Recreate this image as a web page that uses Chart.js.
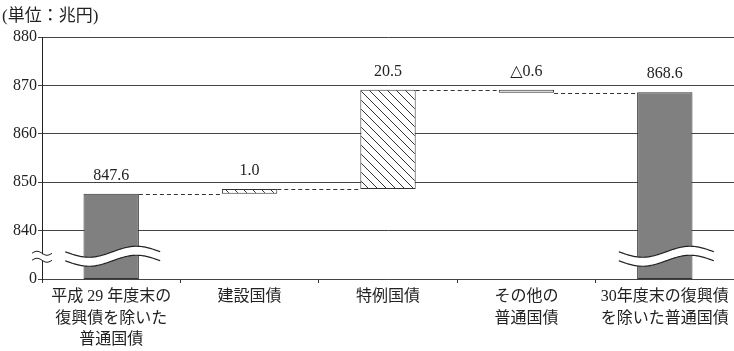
<!DOCTYPE html>
<html>
<head>
<meta charset="utf-8">
<script src="https://cdn.jsdelivr.net/npm/chart.js@4/dist/chart.umd.min.js"></script>
<style>
  html, body { margin: 0; padding: 0; background: #fff; }
  #wrap { width: 734px; height: 351px; position: relative; }
</style>
</head>
<body>
<div id="wrap"><canvas id="c"></canvas></div>
<script>
// ---- data ----
const categories = [
  ["平成 29 年度末の", "復興債を除いた", "普通国債"],
  "建設国債",
  "特例国債",
  ["その他の", "普通国債"],
  ["30年度末の復興債", "を除いた普通国債"]
];
const startTotal = 847.6;            // 兆円
const changes = [1.0, 20.5, -0.6];   // 建設国債, 特例国債, その他の普通国債
const endTotal = 868.6;              // 兆円
const yTickValues = [830, 840, 850, 860, 870, 880];
const yTickLabels = ["0", "840", "850", "860", "870", "880"];
const axisFloor = 830;   // the broken axis shows 0 at this level
const breakLevel = 834.7;

// ---- build floating bar ranges from the data ----
const ranges = [[axisFloor, startTotal]];
const levels = [startTotal];
let level = startTotal;
changes.forEach(c => {
  const next = +(level + c).toFixed(1);
  ranges.push([Math.min(level, next), Math.max(level, next)]);
  level = next;
  levels.push(level);
});
ranges.push([axisFloor, endTotal]);

const fmt = v => (v < 0 ? "△" + Math.abs(v).toFixed(1) : v.toFixed(1));
const valueLabels = [fmt(startTotal), ...changes.map(fmt), fmt(endTotal)];

// ---- hatch pattern ----
function hatch() {
  const s = 9;
  const cv = document.createElement("canvas");
  cv.width = s; cv.height = s;
  const g = cv.getContext("2d");
  g.fillStyle = "#fff";
  g.fillRect(0, 0, s, s);
  g.strokeStyle = "#333";
  g.lineWidth = 1;
  g.beginPath();
  g.moveTo(0, 0); g.lineTo(s, s);
  g.moveTo(-1, s - 1); g.lineTo(1, s + 1);
  g.moveTo(s - 1, -1); g.lineTo(s + 1, 1);
  g.stroke();
  return g.createPattern(cv, "repeat");
}
const ctx0 = document.getElementById("c").getContext("2d");
const hatchFill = hatch();

const SERIF = "'Liberation Serif', 'DejaVu Serif', 'Noto Sans CJK JP', serif";
Chart.defaults.font.family = SERIF;
Chart.defaults.color = "#222";

// ---- decorations: unit caption, value labels, connectors, axis breaks ----
const decor = {
  id: "decor",
  afterDatasetsDraw(chart) {
    const { ctx, scales: { y } } = chart;
    const bars = chart.getDatasetMeta(0).data;
    ctx.save();

    // dashed connectors
    ctx.strokeStyle = "#333";
    ctx.lineWidth = 1;
    ctx.setLineDash([4, 3]);
    for (let i = 0; i < bars.length - 1; i++) {
      const yy = Math.round(y.getPixelForValue(levels[i])) + 0.5;
      ctx.beginPath();
      ctx.moveTo(bars[i].x + bars[i].width / 2, yy);
      ctx.lineTo(bars[i + 1].x - bars[i + 1].width / 2, yy);
      ctx.stroke();
    }
    ctx.setLineDash([]);

    // wave breaks across the full-height bars
    const yc = y.getPixelForValue(breakLevel);
    [0, bars.length - 1].forEach(i => {
      const x0 = bars[i].x - 46, x1 = bars[i].x + 49, per = 95, amp = 5.5, gap = 4.5;
      const curve = (off, reverse) => {
        const pts = [];
        for (let x = x0; x <= x1; x += 1) {
          pts.push([x, yc + off + amp * Math.sin(2 * Math.PI * (x - x0) / per)]);
        }
        return reverse ? pts.reverse() : pts;
      };
      const up = curve(-gap, false), lo = curve(gap, true);
      ctx.fillStyle = "#fff";
      ctx.beginPath();
      up.forEach((p, k) => (k ? ctx.lineTo(p[0], p[1]) : ctx.moveTo(p[0], p[1])));
      lo.forEach(p => ctx.lineTo(p[0], p[1]));
      ctx.closePath();
      ctx.fill();
      ctx.strokeStyle = "#222";
      ctx.lineWidth = 1.2;
      [up, lo].forEach(pts => {
        ctx.beginPath();
        pts.forEach((p, k) => (k ? ctx.lineTo(p[0], p[1]) : ctx.moveTo(p[0], p[1])));
        ctx.stroke();
      });
    });

    // small break mark on the value axis
    const ax = chart.chartArea.left;
    ctx.fillStyle = "#fff";
    ctx.fillRect(ax - 2, yc - 2, 4, 6);
    ctx.strokeStyle = "#222";
    ctx.lineWidth = 1;
    [-3, 4].forEach(off => {
      ctx.beginPath();
      for (let x = ax - 10; x <= ax + 10; x++) {
        const yy = yc + off - 2 * Math.sin(2 * Math.PI * (x - ax + 10) / 20);
        x === ax - 10 ? ctx.moveTo(x, yy) : ctx.lineTo(x, yy);
      }
      ctx.stroke();
    });

    // value labels
    ctx.fillStyle = "#222";
    ctx.font = "16px " + SERIF;
    ctx.textAlign = "center";
    ctx.textBaseline = "bottom";
    bars.forEach((b, i) => {
      const top = y.getPixelForValue(ranges[i][1]);
      ctx.fillText(valueLabels[i], b.x, top - 10);
    });

    // unit caption
    ctx.textAlign = "left";
    ctx.textBaseline = "middle";
    ctx.font = "17px " + SERIF;
    ctx.fillText("(単位：兆円)", 2, 17);
    ctx.restore();
  }
};

new Chart(ctx0, {
  type: "bar",
  data: {
    labels: categories,
    datasets: [{
      data: ranges,
      backgroundColor: ["#808080", hatchFill, hatchFill, "#dcdcdc", "#808080"],
      borderColor: "#333",
      borderWidth: 1,
      borderSkipped: false,
      categoryPercentage: 1,
      barPercentage: 0.4
    }]
  },
  options: {
    responsive: true,
    maintainAspectRatio: false,
    animation: false,
    layout: { padding: { top: 37, right: 0, bottom: 0, left: 0 } },
    plugins: { legend: { display: false }, tooltip: { enabled: false } },
    scales: {
      x: {
        grid: { offset: true, drawOnChartArea: false, drawTicks: true, tickLength: 4, color: "#333" },
        border: { display: true, color: "#444" },
        ticks: { font: { size: 16, lineHeight: 1.35 }, padding: 3, maxRotation: 0, autoSkip: false },
        afterFit: s => { s.height = 72; }
      },
      y: {
        min: 830, max: 880,
        afterBuildTicks: s => { s.ticks = yTickValues.map(v => ({ value: v })); },
        afterFit: s => { s.width = 42; },
        grid: { color: "#444", lineWidth: 1, tickLength: 4, drawTicks: true },
        border: { display: true, color: "#222" },
        ticks: {
          font: { size: 16 },
          padding: 1,
          callback: v => yTickLabels[yTickValues.indexOf(v)]
        }
      }
    }
  },
  plugins: [decor]
});
</script>
</body>
</html>
